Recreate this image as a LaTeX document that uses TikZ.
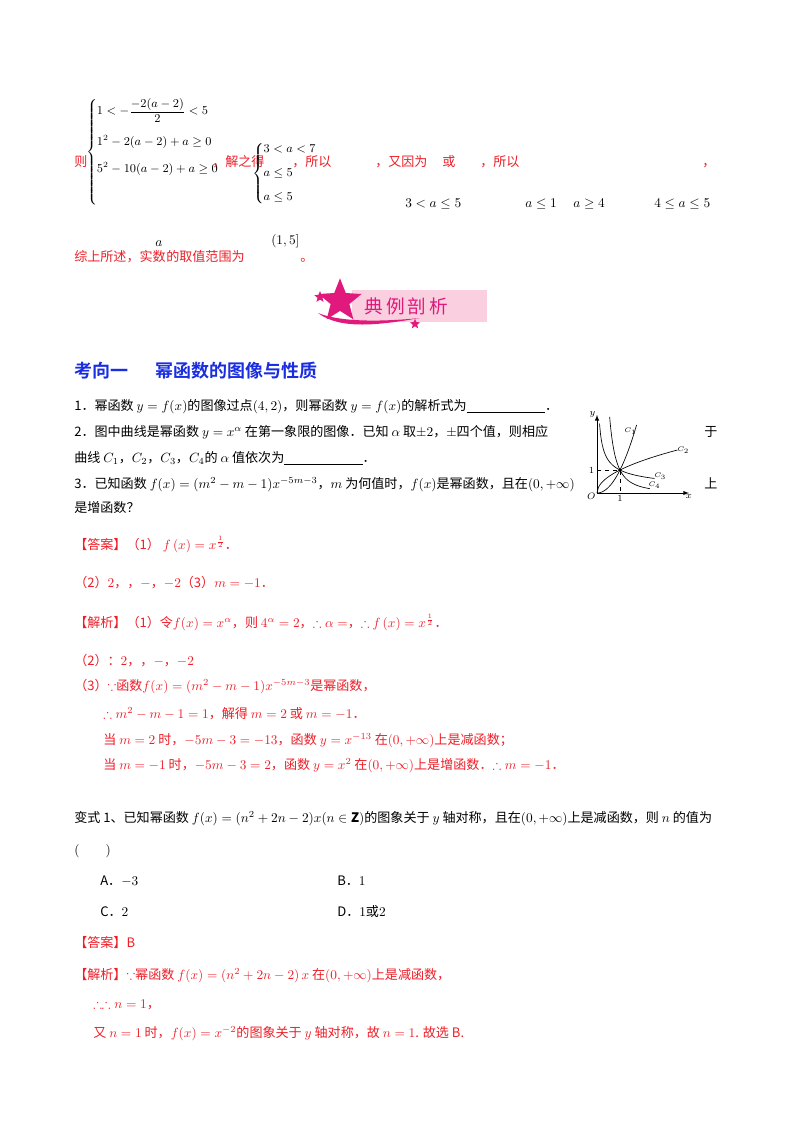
\documentclass[tikz,border=0pt]{standalone}
\usepackage{amsmath,amssymb}
\usepackage{fontspec}
\setmainfont{Noto Sans CJK SC}
\newfontfamily\cjkb{Noto Sans CJK SC}[BoldFont={* Bold}]
\usetikzlibrary{shapes.geometric}
\definecolor{rd}{RGB}{238,30,40}
\definecolor{bl}{RGB}{25,45,225}
\definecolor{mg}{RGB}{225,25,125}
\definecolor{pk}{RGB}{250,208,225}
\begin{document}
\begin{tikzpicture}[x=0.75pt,y=-0.75pt,
  t/.style={anchor=base west,inner sep=0pt,font=\fontsize{9.8}{12}\selectfont},
  r/.style={t,text=rd}]
\useasboundingbox (0,0) rectangle (800,1132);
\fill[white] (0,0) rectangle (800,1132);
% system 1
\node[r] (ze) at (74,166) {则};
\node[t,anchor=west,font=\fontsize{8.8}{11}\selectfont] (s1) at (86,152) {$\left\{\begin{array}{@{}l@{}}1<-\dfrac{-2(a-2)}{2}<5\\[12pt] 1^2-2(a-2)+a\ge 0\\[9pt] 5^2-10(a-2)+a\ge 0\\[22pt]\end{array}\right.$};
\node[r] (jz) at (212,166) {，解之得};
\node[t,anchor=west,font=\fontsize{9.4}{11}\selectfont] (s2) at (252,174) {$\left\{\begin{array}{@{}l@{}}3<a<7\\[7pt] a\le 5\\[7pt] a\le 5\end{array}\right.$};
\node[r] (s3) at (292,166) {，所以};
\node[r] (s4) at (375,166) {，又因为};
\node[r] (s5) at (442,166) {或};
\node[r] (s6) at (480,166) {，所以};
\node[r] (s7) at (702,166) {，};
\node[t] (m1) at (405,207) {$3<a\le 5$};
\node[t] (m2) at (525,207) {$a\le 1$};
\node[t] (m3) at (573,207) {$a\ge 4$};
\node[t] (m4) at (654,207) {$4\le a\le 5$};
\node[r] (zs) at (74,261) {综上所述，实数};
\node[t] (za) at (155,246) {$a$};
\node[r] (zq) at (166,261) {的取值范围为};
\node[t] (zr) at (271,244) {$(1,5]$};
\node[r] (zd) at (300,261) {。};
% banner
\fill[pk] (352,290) rectangle (487,322);
\fill[mg] (318,313) .. controls (340,330) and (380,325) .. (420,318) .. controls (380,322) and (340,322) .. (318,313);
\node[star,star points=5,star point ratio=2.3,fill=mg,minimum size=34pt,inner sep=0pt] (st1) at (340,301) {};
\node[star,star points=5,star point ratio=2.3,fill=mg,minimum size=9pt,inner sep=0pt] (st2) at (320,297) {};
\node[star,star points=5,star point ratio=2.3,fill=mg,minimum size=8pt,inner sep=0pt] (st3) at (415,324) {};
\node[t,text=mg,font=\fontsize{14}{16}\selectfont] (dl) at (364,313) {典\,例\,剖\,析};
% heading
\node[t,text=bl,font=\cjkb\bfseries\fontsize{13.5}{16}\selectfont] (hd) at (74,377) {考向一\hspace{1.5em}幂函数的图像与性质};
% questions
\node[t] (q1) at (74,410) {1．幂函数 $y=f(x)$的图像过点$(4,2)$，则幂函数 $y=f(x)$的解析式为\underline{\hspace{6em}}．};
\node[t] (q2) at (74,436) {2．图中曲线是幂函数 $y=x^{\alpha}$ 在第一象限的图像．已知 $\alpha$ 取$\pm 2$，$\pm$四个值，则相应};
\node[t] (q2b) at (74,462) {曲线 $C_1$，$C_2$，$C_3$，$C_4$的 $\alpha$ 值依次为\underline{\hspace{6em}}．};
\node[t] (q3) at (74,488) {3．已知函数 $f(x)=(m^2-m-1)x^{-5m-3}$，$m$ 为何值时，$f(x)$是幂函数，且在$(0,+\infty)$};
\node[t] (q3b) at (74,512) {是增函数？};
\node[t] (yu) at (704,436) {于};
\node[t] (sh) at (704,488) {上};
% graph
\begin{scope}[shift={(597,493)},x=17.25pt,y=17.25pt]
\draw[-latex,line width=0.5pt] (0,0) -- (4.0,0) node[below,inner sep=1pt,font=\scriptsize] {$x$};
\draw[-latex,line width=0.5pt] (0,0) -- (0,3.4) node[left,inner sep=1pt,font=\scriptsize] {$y$};
\draw[dashed,line width=0.3pt] (0,1) -- (1,1) -- (1,0);
\draw[line width=0.5pt,domain=0:1.72,samples=40] plot (\x,{\x*\x});
\draw[line width=0.5pt,domain=0:3.5,samples=60] plot (\x,{sqrt(\x)});
\draw[line width=0.5pt,domain=0.11:2.5,samples=60] plot (\x,{1/sqrt(\x)});
\draw[line width=0.5pt,domain=0.55:2.3,samples=60] plot (\x,{1/(\x*\x)});
\fill (1,1) circle (1.2pt);
\node[font=\tiny,inner sep=1pt] (c1) at (1.45,2.7) {$C_1$};
\node[font=\tiny,inner sep=1pt] (c2) at (3.75,1.85) {$C_2$};
\node[font=\tiny,inner sep=1pt] (c3) at (2.75,0.72) {$C_3$};
\node[font=\tiny,inner sep=1pt] (c4) at (2.5,0.32) {$C_4$};
\node[font=\scriptsize,inner sep=1pt,anchor=east] (o) at (0,-0.15) {$O$};
\node[font=\scriptsize,inner sep=1pt,anchor=east] (one) at (-0.05,1) {$1$};
\node[font=\scriptsize,inner sep=1pt,anchor=north] (onex) at (1,-0.02) {$1$};
\end{scope}
% answers
\node[r] (a1) at (74,549) {【答案】（1）\ $f\left(x\right)=x^{\frac{1}{2}}$．};
\node[r] (a2) at (74,587) {（2）$2$，，$-$，$-2$（3）$m=-1$．};
\node[r] (b1) at (74,627) {【解析】（1）令$f(x)=x^{\alpha}$，则 $4^{\alpha}=2$，$\therefore\alpha=$，$\therefore$ $f\left(x\right)=x^{\frac{1}{2}}$．};
\node[r] (b2) at (74,665) {（2）：$2$，，$-$，$-2$};
\node[r] (b3) at (74,690) {（3）$\because$函数$f(x)=(m^2-m-1)x^{-5m-3}$是幂函数，};
\node[r] (b4) at (103,718) {$\therefore m^2-m-1=1$，解得 $m=2$ 或 $m=-1$．};
\node[r] (b5) at (103,744) {当 $m=2$ 时，$-5m-3=-13$，函数 $y=x^{-13}$ 在$(0,+\infty)$上是减函数；};
\node[r] (b6) at (103,769) {当 $m=-1$ 时，$-5m-3=2$，函数 $y=x^{2}$ 在$(0,+\infty)$上是增函数．$\therefore m=-1$．};
% variant
\node[t] (v1) at (74,822) {变式 1、已知幂函数 $f(x)=(n^2+2n-2)x(n\in\mathbf{Z})$的图象关于 $y$ 轴对称，且在$(0,+\infty)$上是减函数，则 $n$ 的值为};
\node[t] (v2) at (74,854) {$(\qquad)$};
\node[t] (va) at (100,885) {A．$-3$};
\node[t] (vb) at (337,885) {B．$1$};
\node[t] (vc) at (100,916) {C．$2$};
\node[t] (vd) at (337,916) {D．$1$或$2$};
\node[r] (w1) at (74,947) {【答案】B};
\node[r] (w2) at (74,979) {【解析】$\because$幂函数 $f(x)=(n^2+2n-2)\,x$ 在$(0,+\infty)$上是减函数，};
\node[r] (w3) at (93,1008) {$\therefore\therefore n=1$，};
\node[r] (w4) at (93,1037) {又 $n=1$ 时，$f(x)=x^{-2}$的图象关于 $y$ 轴对称，故 $n=1$. 故选 B.};
\end{tikzpicture}
\end{document}
